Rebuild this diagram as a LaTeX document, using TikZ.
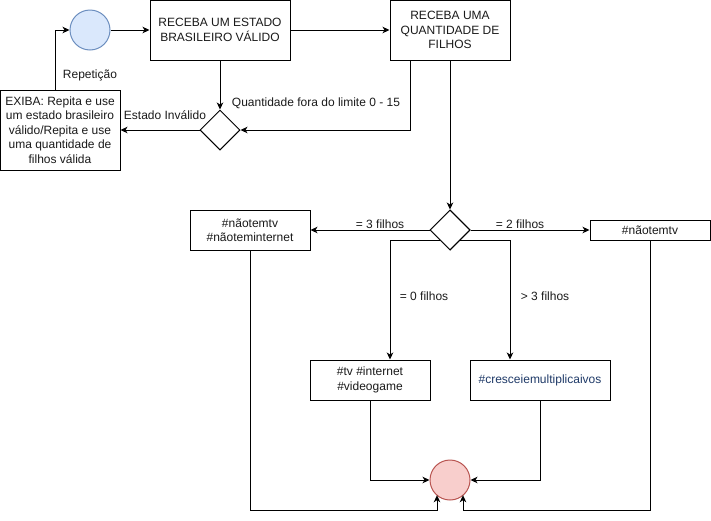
\documentclass[tikz,border=0pt]{standalone}
\usepackage{fontspec}
\setmainfont{Liberation Sans}
\usetikzlibrary{shapes.geometric,arrows.meta,calc}
\definecolor{startfill}{HTML}{DAE8FC}
\definecolor{startdraw}{HTML}{6C8EBF}
\definecolor{endfill}{HTML}{F8CECC}
\definecolor{enddraw}{HTML}{B85450}
\definecolor{darkblue}{HTML}{1F3A68}
\definecolor{txt}{HTML}{1A1A1A}
\tikzset{
  box/.style={draw, line width=1pt, fill=white, align=center, inner sep=0pt, text=txt,
    font=\fontsize{12}{14.5}\selectfont},
  dec/.style={draw, line width=1pt, fill=white, diamond, minimum size=40pt, inner sep=0pt},
  circ/.style={circle, line width=1pt, minimum size=40pt, inner sep=0pt},
  conn/.style={line width=1pt, -{Stealth[length=7pt,width=6.5pt,inset=2pt]}},
  lbl/.style={font=\fontsize{12}{14}\selectfont, text=txt, inner sep=0pt},
}
\begin{document}
\begin{tikzpicture}[x=1pt,y=-1pt]
\useasboundingbox (0,0) rectangle (711,520);
% nodes
\node[circ, fill=startfill, draw=startdraw] (start) at (90,30) {};
\node[box, minimum width=140pt, minimum height=60pt] (b1) at (220,30) {RECEBA UM ESTADO\\BRASILEIRO VÁLIDO};
\node[box, minimum width=120pt, minimum height=60pt] (b2) at (450,30) {RECEBA UMA\\QUANTIDADE DE\\FILHOS};
\node[dec] (d1) at (220,130) {};
\node[box, minimum width=120pt, minimum height=80pt] (ex) at (60,130) {EXIBA: Repita e use\\um estado brasileiro\\válido/Repita e use\\uma quantidade de\\filhos válida};
\node[dec] (d2) at (450,230) {};
\node[box, minimum width=120pt, minimum height=40pt] (n1) at (250,230) {\#nãotemtv\\\#nãoteminternet};
\node[box, minimum width=120pt, minimum height=20pt] (n2) at (650,230) {\#nãotemtv};
\node[box, minimum width=120pt, minimum height=40pt] (n3) at (370,380) {\#tv \#internet\\\#videogame};
\node[box, minimum width=140pt, minimum height=40pt, text=darkblue] (n4) at (540,380) {\#cresceiemultiplicaivos};
\node[circ, fill=endfill, draw=enddraw] (end) at (450,480) {};
% helper coordinates
\coordinate (bl) at (437,510);
\coordinate (bltip) at (437,495.2);
\coordinate (br) at (463,510);
\coordinate (brtip) at (463,495.2);
% connectors
\draw[conn] (start.east) -- (b1.west);
\draw[conn] (b1.east) -- (b2.west);
\draw[conn] (b1.south) -- (d1.north);
\draw[conn] ([xshift=-40pt]b2.south) |- (d1.east);
\draw[conn] (d1.west) -- (ex.east);
\draw[conn] ([xshift=-5pt]ex.north) |- (start.west);
\draw[conn] (b2.south) -- (d2.north);
\draw[conn] (d2.west) -- (n1.east);
\draw[conn] (d2.east) -- (n2.west);
\draw[conn] (d2.center |- 0,240) -| ([xshift=20pt]n3.north);
\draw[conn] (d2.center |- 0,240) -| ([xshift=-30pt]n4.north);
\node[dec] at (d2) {};
\draw[conn] (n3.south) |- (end.west);
\draw[conn] (n4.south) |- (end.east);
\draw[conn] (n1.south) |- (bl) -- (bltip);
\draw[conn] (n2.south) |- (br) -- (brtip);
% labels
\node[lbl] (l1) at (90,75) {Repetição};
\node[lbl] (l2) at (165,115) {Estado Inválido};
\node[lbl] (l3) at (316,103) {Quantidade fora do limite 0 - 15};
\node[lbl] (l4) at (380,224) {= 3 filhos};
\node[lbl] (l5) at (520,224) {= 2 filhos};
\node[lbl] (l6) at (424,296) {= 0 filhos};
\node[lbl] (l7) at (545,296) {> 3 filhos};
\end{tikzpicture}
\end{document}
